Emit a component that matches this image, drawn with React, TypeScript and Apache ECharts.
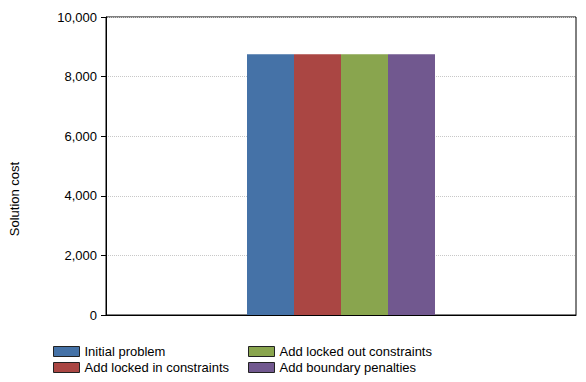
import React, { useEffect, useRef } from "react";
import * as echarts from "echarts";

const categories = [""];
const seriesNames = [
  "Initial problem",
  "Add locked in constraints",
  "Add locked out constraints",
  "Add boundary penalties",
];
const seriesValues = [[8750], [8750], [8750], [8750]];
const colors = ["#4572A7", "#AA4643", "#89A54E", "#71588F"];
const yTicks = { min: 0, max: 10000, interval: 2000 };
const yAxisTitle = "Solution cost";

const FONT = "'Liberation Sans', Arial, sans-serif";

export default function App() {
  const ref = useRef<HTMLDivElement>(null);
  useEffect(() => {
    if (!ref.current) return;
    const chart = echarts.init(ref.current, undefined, { renderer: "svg" });
    const legendText = { fontSize: 13, fontFamily: FONT, color: "#000" };
    const legendBase = {
      orient: "vertical",
      top: 345,
      itemWidth: 26,
      itemHeight: 10,
      itemGap: 3,
      padding: 0,
      icon: "rect",
      textStyle: legendText,
      selectedMode: false,
      itemStyle: { borderColor: "#222", borderWidth: 1 },
    };
    chart.setOption({
      animation: false,
      textStyle: { fontFamily: FONT },
      grid: {
        left: 106,
        top: 17,
        right: 10,
        bottom: 67,
        show: true,
        borderColor: "#000",
        borderWidth: 1,
        backgroundColor: "transparent",
      },
      legend: [
        { ...legendBase, data: [seriesNames[0], seriesNames[1]], left: 53 },
        { ...legendBase, data: [seriesNames[2], seriesNames[3]], left: 248 },
      ],
      graphic: [
        {
          type: "text",
          x: 14,
          y: 199,
          rotation: Math.PI / 2,
          style: {
            text: yAxisTitle,
            fontSize: 13,
            fontFamily: FONT,
            fill: "#000",
            align: "center",
            verticalAlign: "middle",
          },
        },
      ],
      xAxis: {
        type: "category",
        data: categories,
        axisLine: { lineStyle: { color: "#000", width: 1 } },
        axisTick: { show: false },
        axisLabel: { show: false },
      },
      yAxis: {
        type: "value",
        min: yTicks.min,
        max: yTicks.max,
        interval: yTicks.interval,
        axisLine: { show: true, lineStyle: { color: "#000", width: 1 } },
        axisTick: { show: true, length: 5, lineStyle: { color: "#000" } },
        axisLabel: {
          fontSize: 13,
          fontFamily: FONT,
          color: "#000",
          margin: 9,
          formatter: (v: number) => v.toLocaleString("en-US"),
        },
        splitLine: {
          show: true,
          lineStyle: { color: "#c8c8c8", type: "dotted", width: 1 },
        },
      },
      series: seriesNames.map((name, i) => ({
        name,
        type: "bar",
        data: seriesValues[i],
        barWidth: 47,
        barGap: "0%",
        itemStyle: { color: colors[i] },
      })),
    });
    return () => chart.dispose();
  }, []);
  return <div ref={ref} style={{ width: 586, height: 382, position: "absolute", left: 0, top: 0 }} />;
}
